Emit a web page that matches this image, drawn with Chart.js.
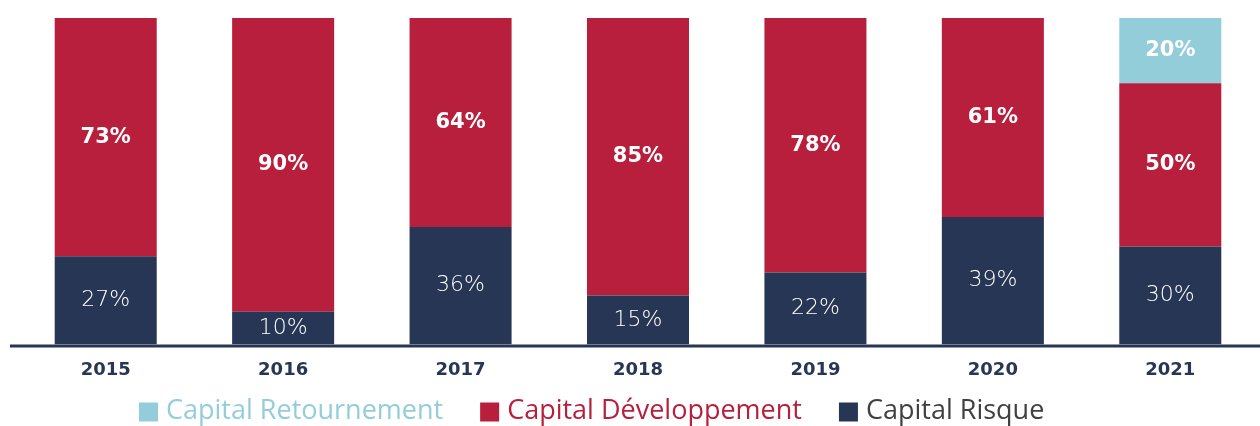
<!DOCTYPE html>
<html><head><meta charset="utf-8">
<script src="https://cdn.jsdelivr.net/npm/chart.js@4/dist/chart.umd.min.js"></script>
<style>html,body{margin:0;padding:0;background:#fff}#wrap{width:1260px;height:426px}</style>
</head><body><div id="wrap"><canvas id="c" width="1260" height="426"></canvas></div>
<script>
const categories = ['2015','2016','2017','2018','2019','2020','2021'];
const capitalRisque = [27,10,36,15,22,39,30];
const capitalDeveloppement = [73,90,64,85,78,61,50];
const capitalRetournement = [null,null,null,null,null,null,20];
const seriesNames = ['Capital Risque','Capital Développement','Capital Retournement'];
const legendOrder = [2,1,0];

const NAVY = '#273655', RED = '#B71F3C', BLUE = '#94CDDA';
const textColors = ['#404040', RED, BLUE];
const labelFonts = ['200 22px "DejaVu Sans"', 'bold 21px "DejaVu Sans"', 'bold 21px "DejaVu Sans"'];

const barLabels = {
  id: 'barLabels',
  afterDatasetsDraw(chart) {
    const ctx = chart.ctx;
    chart.data.datasets.forEach((ds, i) => {
      const meta = chart.getDatasetMeta(i);
      meta.data.forEach((bar, j) => {
        const v = ds.data[j];
        if (v == null || v === 0) return;
        const p = bar.getProps(['x', 'y', 'base'], true);
        ctx.save();
        ctx.fillStyle = '#ffffff';
        ctx.font = labelFonts[i];
        ctx.textAlign = 'center';
        ctx.textBaseline = 'middle';
        ctx.fillText(v + '%', p.x, (p.y + p.base) / 2);
        ctx.restore();
      });
    });
  }
};

const axisLine = {
  id: 'axisLine',
  afterDatasetsDraw(chart) {
    const ctx = chart.ctx, y = chart.chartArea.bottom + 1.5;
    ctx.save();
    ctx.strokeStyle = NAVY;
    ctx.lineWidth = 3;
    ctx.beginPath();
    ctx.moveTo(10, y);
    ctx.lineTo(chart.width, y);
    ctx.stroke();
    ctx.restore();
  }
};

const customLegend = {
  id: 'customLegend',
  afterDraw(chart) {
    const ctx = chart.ctx;
    const font = '27px "Open Sans"';
    let x = 139;
    const yc = 412;
    ctx.save();
    ctx.font = font;
    ctx.textBaseline = 'middle';
    legendOrder.forEach(i => {
      const ds = chart.data.datasets[i];
      ctx.fillStyle = ds.backgroundColor;
      ctx.fillRect(x, yc - 9.5, 19, 19);
      x += 19 + 8;
      ctx.fillStyle = textColors[i];
      ctx.fillText(ds.label, x, yc - 1);
      x += ctx.measureText(ds.label).width + 37;
    });
    ctx.restore();
  }
};

new Chart(document.getElementById('c'), {
  type: 'bar',
  data: {
    labels: categories,
    datasets: [
      { label: seriesNames[0], data: capitalRisque, backgroundColor: NAVY },
      { label: seriesNames[1], data: capitalDeveloppement, backgroundColor: RED },
      { label: seriesNames[2], data: capitalRetournement, backgroundColor: BLUE }
    ]
  },
  options: {
    responsive: false,
    animation: false,
    devicePixelRatio: 1,
    datasets: { bar: { barPercentage: 0.575, categoryPercentage: 1, borderWidth: 0 } },
    layout: { padding: { top: 18, left: 17, right: 1, bottom: 30 } },
    plugins: { legend: { display: false }, tooltip: { enabled: false } },
    scales: {
      x: {
        stacked: true,
        grid: { display: false, drawTicks: false },
        border: { display: false },
        ticks: { color: NAVY, padding: 15, font: { family: '"DejaVu Sans"', weight: 'bold', size: 18 } }
      },
      y: { stacked: true, display: false, min: 0, max: 100 }
    }
  },
  plugins: [barLabels, axisLine, customLegend]
});
</script></body></html>
